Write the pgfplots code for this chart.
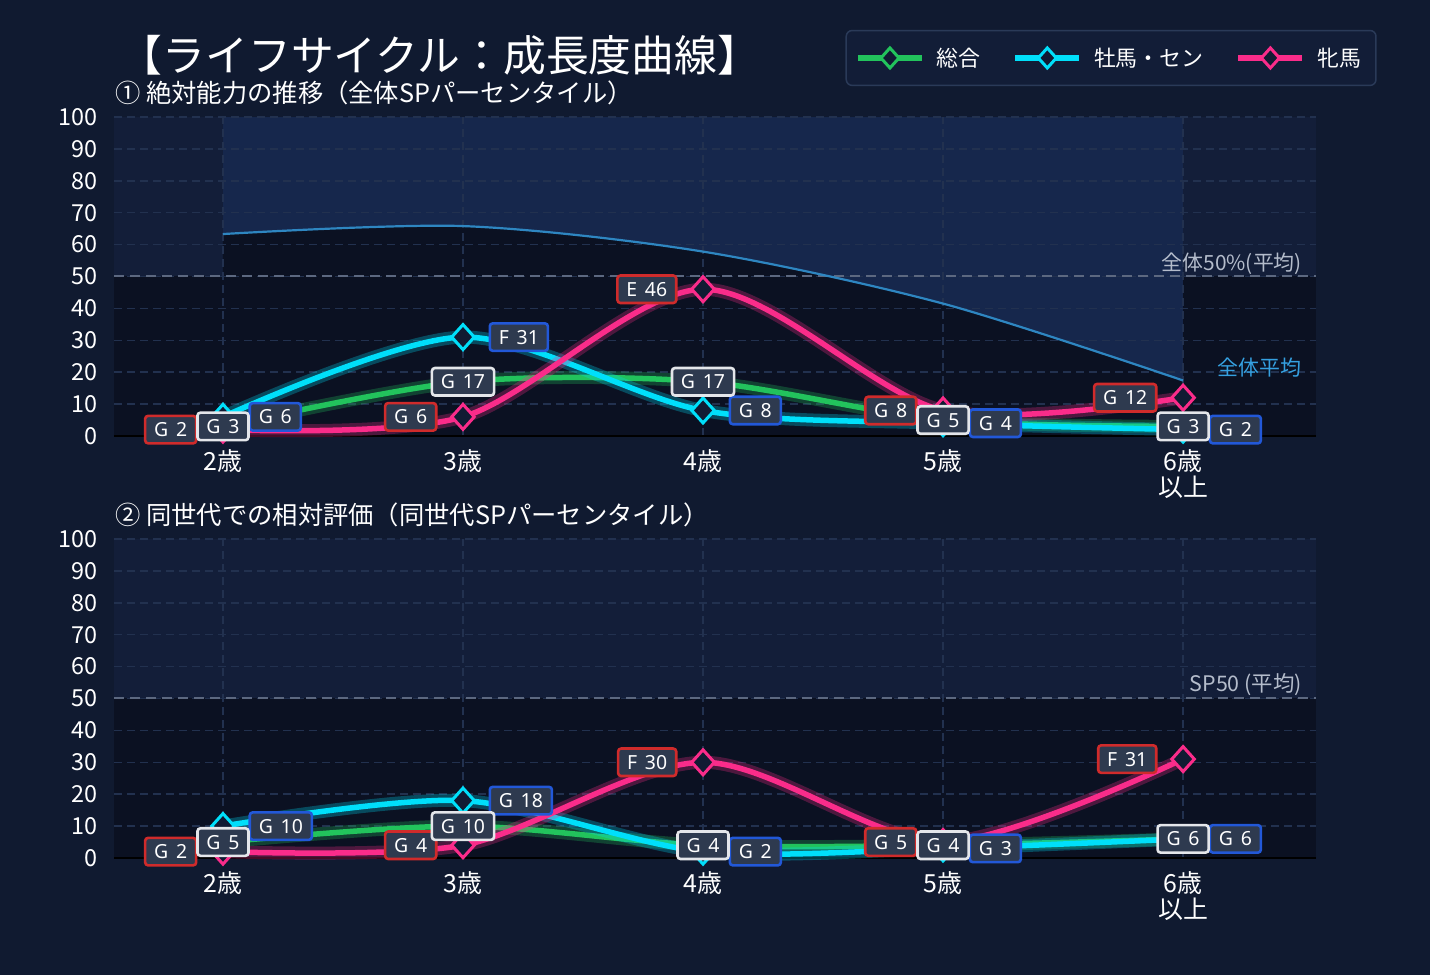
\documentclass[border=0pt]{standalone}
\usepackage{fontspec}
\setmainfont{Noto Sans CJK JP}
\newfontfamily\labelfont{Noto Sans}
\usepackage{pgfplots}
\usepackage{pgfplotstable}
\pgfplotsset{compat=1.18}

\definecolor{pagebg}{HTML}{101A30}
\definecolor{zonehi}{HTML}{131E39}
\definecolor{zoneband}{HTML}{16274C}
\definecolor{zonelo}{HTML}{0B1122}
\definecolor{gridc}{HTML}{22314F}
\definecolor{avgline}{HTML}{5C6880}
\definecolor{baseline}{HTML}{28375A}
\definecolor{cgreen}{HTML}{22C35C}
\definecolor{ccyan}{HTML}{00DFFA}
\definecolor{cpink}{HTML}{FA2C8A}
\definecolor{cavg}{HTML}{2E86C1}
\definecolor{cavgtext}{HTML}{35A0E0}
\definecolor{notetext}{HTML}{B4BCCB}
\definecolor{boxfill}{HTML}{2E3A4F}
\definecolor{bred}{HTML}{D02B2B}
\definecolor{bblue}{HTML}{2258D8}
\definecolor{bwhite}{HTML}{E4E6EA}
\definecolor{markfill}{HTML}{111B33}
\definecolor{legendfill}{HTML}{121D37}
\definecolor{legendborder}{HTML}{2A3A58}

\pagecolor{pagebg}

% absolute ability (percentile over all horses)
\pgfplotstableread{
x total male female tg mg fg
0 3  6  2  G G G
1 17 31 6  G F G
2 17 8  46 G G E
3 5  4  8  G G G
4 3  2  12 G G G
}\abstab

% relative ability within the same generation
\pgfplotstableread{
x total male female tg mg fg
0 5  10 2  G G G
1 10 18 4  G G G
2 4  2  30 G G F
3 4  3  5  G G G
4 6  6  31 G G F
}\reltab

% overall average curve
\pgfplotstableread{
x avg
0 63.3
1 65.8
2 57.8
3 41.5
4 17.4
}\avgtab

\tikzset{gradebox/.style={draw=#1, fill=boxfill, line width=2.6bp, rounded corners=3bp,
  text=white, font=\labelfont\fontsize{19.5}{20}\selectfont, inner xsep=9bp, inner ysep=0pt,
  minimum height=27.5bp, text height=14bp, text depth=0pt}}

\pgfplotsset{
  panel/.style={
    width=1202bp, height=319bp, scale only axis,
    xmin=-0.454, xmax=4.554, ymin=0, ymax=100,
    xtick={0,...,4}, ytick={0,10,...,100},
    xticklabels={2歳,3歳,4歳,5歳,{6歳\\以上}},
    axis lines=left, axis line style={-},
    y axis line style={draw=none},
    x axis line style={baseline, line width=2.5bp},
    major tick length=0pt,
    grid=major, major grid style={gridc, line width=1.5bp, dash pattern=on 8bp off 5bp},
    xticklabel style={font=\fontsize{25}{26}\selectfont, text=white, align=center,
      inner sep=0pt, anchor=north, yshift=-13bp},
    yticklabel style={font=\fontsize{23.5}{24}\selectfont, text=white, inner sep=0pt,
      anchor=east, xshift=-16bp},
    /pgf/number format/assume math mode=true,
    clip=false, set layers,
  },
  series/.style={color=#1, line width=5.5bp, smooth, mark=diamond*, mark size=12.5bp,
    mark options={solid, fill=markfill, draw=#1, line width=3bp, xscale=1.2}},
  glow/.style={forget plot, color=#1, line width=13bp, smooth, opacity=0.28, mark=none},
  zone/.style={forget plot, on layer=axis background, draw=none, fill=#1},
  % grade tag: border colour, value column; the grade letter is the point meta
  tags/.style 2 args={forget plot, draw=none, point meta=explicit symbolic,
    visualization depends on={\thisrow{#2}\as\tagval},
    nodes near coords={\pgfplotspointmeta\hspace{0.4em}\pgfmathprintnumber{\tagval}},
    nodes near coords style={gradebox=#1}},
  lefttag/.style={nodes near coords style={anchor=east, xshift=-25.5bp}},
  righttag/.style={nodes near coords style={anchor=west, xshift=25.5bp}},
  midtag/.style={nodes near coords style={anchor=center}},
}

\begin{document}
\begin{tikzpicture}[x=1bp,y=1bp]

\node[font=\fontsize{43}{50}\selectfont, text=white] at (440,920) {【ライフサイクル：成長度曲線】};
\node[anchor=west, inner sep=0pt, font=\fontsize{25.4}{30}\selectfont, text=white] at (115,882)
  {① 絶対能力の推移（全体SPパーセンタイル）};
\node[anchor=west, inner sep=0pt, font=\fontsize{25.4}{30}\selectfont, text=white] at (115,460)
  {② 同世代での相対評価（同世代SPパーセンタイル）};

% ---------- panel 1: absolute ability ----------
\begin{axis}[panel, at={(114bp,539bp)}, anchor=south west,
  legend columns=3,
  legend image code/.code={\draw[sharp corners, mark repeat=2, mark phase=2, #1]
    plot coordinates {(0bp,0bp) (32bp,0bp) (64bp,0bp)};},
  legend image post style={mark size=10bp},
  legend style={at={(rel axis cs:0.8295,1.185)}, anchor=center,
    draw=legendborder, fill=legendfill, line width=1.5bp, rounded corners=6bp,
    text=white, font=\fontsize{22}{24}\selectfont,
    inner xsep=9bp, inner ysep=13.5bp, nodes={inner xsep=6bp, inner ysep=4bp},
    /tikz/every odd column/.append style={column sep=6bp},
    /tikz/every even column/.append style={column sep=26bp}},
]
\addplot[zone=zonehi] coordinates {(-0.454,0) (-0.454,100) (4.554,100) (4.554,0)} -- cycle;
\addplot[zone=zonelo] coordinates {(-0.454,0) (-0.454,50) (0,50) (0,0)} -- cycle;
\addplot[zone=zonelo] coordinates {(4,0) (4,50) (4.554,50) (4.554,0)} -- cycle;
\addplot[zone=zoneband] coordinates {(0,0) (0,100) (4,100) (4,0)} -- cycle;
\addplot[zone=zonelo, smooth] table[x=x, y=avg] {\avgtab} \closedcycle;

\addplot[forget plot, avgline, line width=2bp, dash pattern=on 10bp off 6bp]
  coordinates {(-0.454,50) (4.554,50)};
\addplot[forget plot, cavg, line width=2.2bp, smooth] table[x=x, y=avg] {\avgtab};

\addplot[glow=cgreen] table[x=x, y=total] {\abstab};
\addplot[series=cgreen] table[x=x, y=total] {\abstab};
\addplot[glow=ccyan] table[x=x, y=male] {\abstab};
\addplot[series=ccyan] table[x=x, y=male] {\abstab};
\addplot[glow=cpink] table[x=x, y=female] {\abstab};
\addplot[series=cpink] table[x=x, y=female] {\abstab};
\legend{総合,牡馬・セン,牝馬}

\addplot[tags={bred}{female}, lefttag] table[x=x, y=female, meta=fg] {\abstab};
\addplot[tags={bblue}{male}, righttag] table[x=x, y=male, meta=mg] {\abstab};
\addplot[tags={bwhite}{total}, midtag] table[x=x, y=total, meta=tg] {\abstab};

\node[anchor=base east, inner sep=0pt, font=\fontsize{21}{24}\selectfont, text=notetext]
  at (axis cs:4.496,50) [yshift=6bp] {全体50\%(平均)};
\node[inner sep=0pt, font=\fontsize{21}{24}\selectfont, text=cavgtext]
  at (axis cs:4.317,21.3) {全体平均};
\end{axis}

% ---------- panel 2: relative ability ----------
\begin{axis}[panel, at={(114bp,117bp)}, anchor=south west]
\addplot[zone=zonehi] coordinates {(-0.454,0) (-0.454,100) (4.554,100) (4.554,0)} -- cycle;
\addplot[zone=zonelo] coordinates {(-0.454,0) (-0.454,50) (4.554,50) (4.554,0)} -- cycle;

\addplot[forget plot, avgline, line width=2bp, dash pattern=on 10bp off 6bp]
  coordinates {(-0.454,50) (4.554,50)};

\addplot[glow=cgreen] table[x=x, y=total] {\reltab};
\addplot[series=cgreen] table[x=x, y=total] {\reltab};
\addplot[glow=ccyan] table[x=x, y=male] {\reltab};
\addplot[series=ccyan] table[x=x, y=male] {\reltab};
\addplot[glow=cpink] table[x=x, y=female] {\reltab};
\addplot[series=cpink] table[x=x, y=female] {\reltab};

\addplot[tags={bred}{female}, lefttag] table[x=x, y=female, meta=fg] {\reltab};
\addplot[tags={bblue}{male}, righttag] table[x=x, y=male, meta=mg] {\reltab};
\addplot[tags={bwhite}{total}, midtag] table[x=x, y=total, meta=tg] {\reltab};

\node[anchor=base east, inner sep=0pt, font=\fontsize{21.5}{24}\selectfont, text=notetext]
  at (axis cs:4.496,50) [yshift=6.5bp] {SP50 (平均)};
\end{axis}

\pgfresetboundingbox
\path (0,0) rectangle (1430,975);
\end{tikzpicture}
\end{document}
